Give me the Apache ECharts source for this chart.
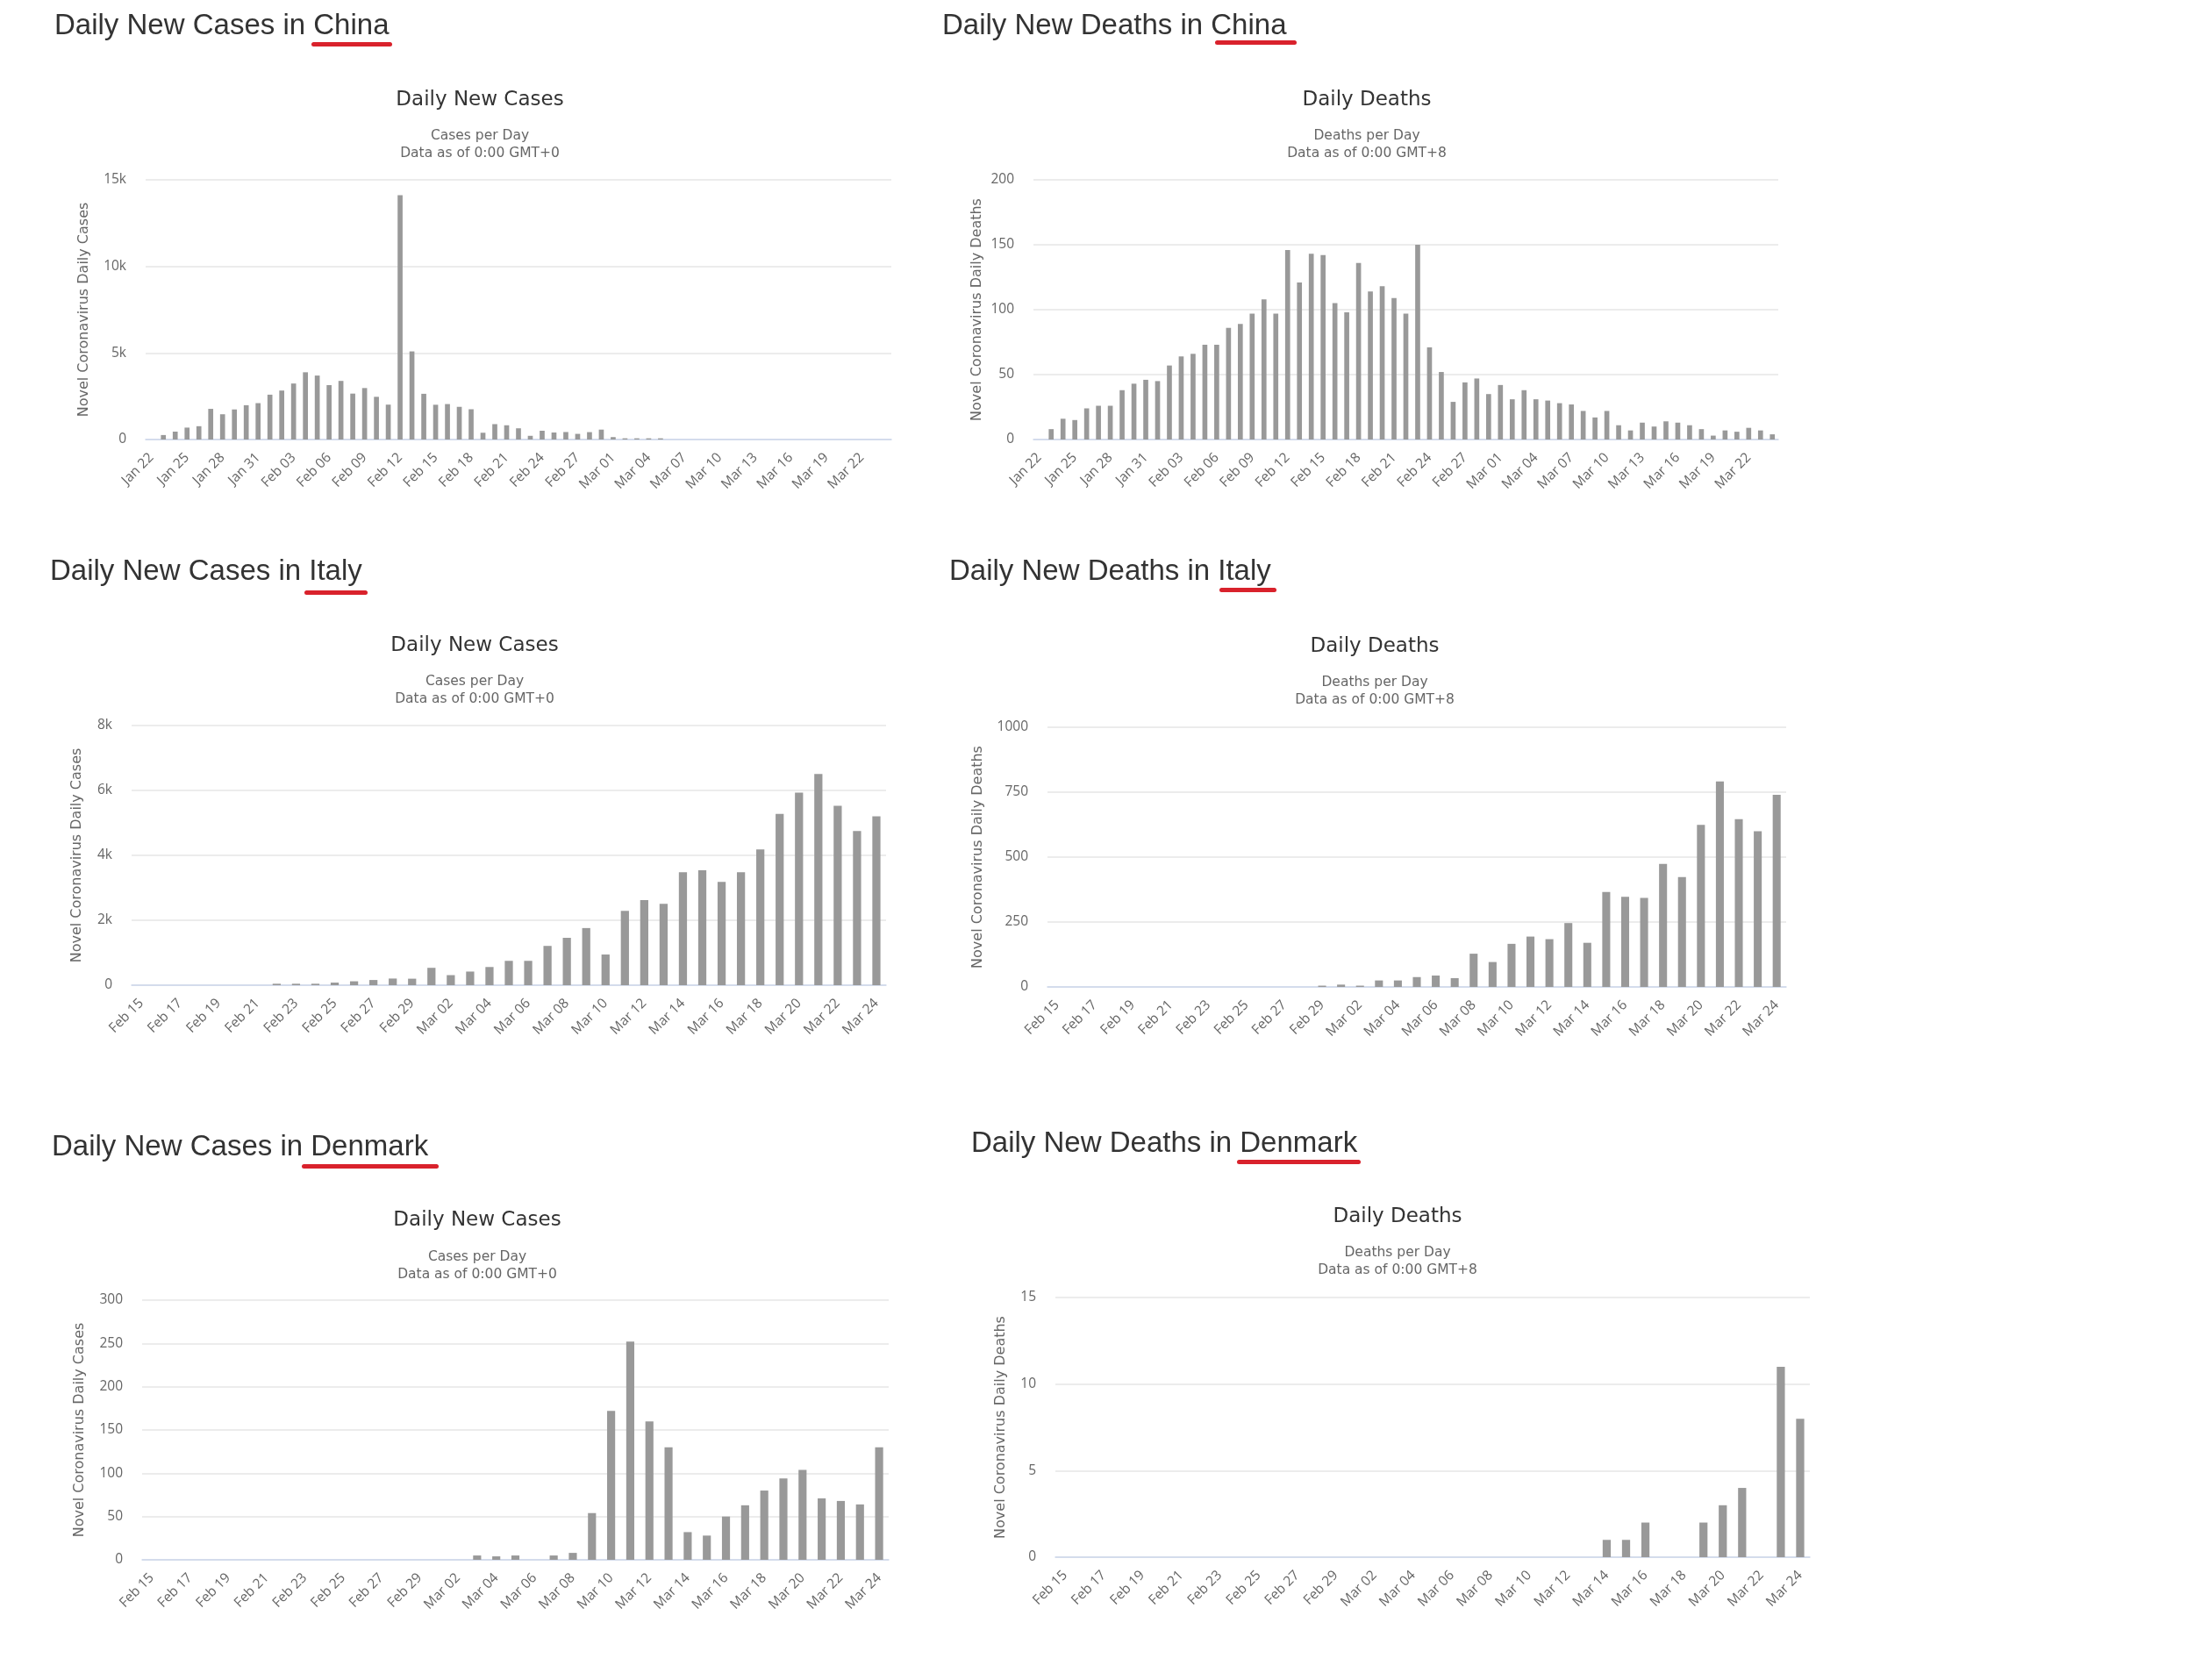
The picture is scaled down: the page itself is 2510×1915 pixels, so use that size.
<!DOCTYPE html>
<html>
<head>
<meta charset="utf-8">
<title>Daily New Cases and Deaths</title>
<script src="https://cdn.jsdelivr.net/npm/echarts@6.0.0/dist/echarts.min.js"></script>
<style>
html, body { margin: 0; padding: 0; background: #fff; }
#main { width: 2510px; height: 1915px; }
</style>
</head>
<body>
<div id="main"></div>
<script>
// categories
var chinaDays = ['Jan 22','Jan 23','Jan 24','Jan 25','Jan 26','Jan 27','Jan 28','Jan 29','Jan 30','Jan 31',
    'Feb 01','Feb 02','Feb 03','Feb 04','Feb 05','Feb 06','Feb 07','Feb 08','Feb 09','Feb 10',
    'Feb 11','Feb 12','Feb 13','Feb 14','Feb 15','Feb 16','Feb 17','Feb 18','Feb 19','Feb 20',
    'Feb 21','Feb 22','Feb 23','Feb 24','Feb 25','Feb 26','Feb 27','Feb 28','Feb 29',
    'Mar 01','Mar 02','Mar 03','Mar 04','Mar 05','Mar 06','Mar 07','Mar 08','Mar 09','Mar 10',
    'Mar 11','Mar 12','Mar 13','Mar 14','Mar 15','Mar 16','Mar 17','Mar 18','Mar 19','Mar 20',
    'Mar 21','Mar 22','Mar 23','Mar 24'];
var europeDays = ['Feb 15','Feb 16','Feb 17','Feb 18','Feb 19','Feb 20','Feb 21','Feb 22','Feb 23','Feb 24',
    'Feb 25','Feb 26','Feb 27','Feb 28','Feb 29',
    'Mar 01','Mar 02','Mar 03','Mar 04','Mar 05','Mar 06','Mar 07','Mar 08','Mar 09','Mar 10',
    'Mar 11','Mar 12','Mar 13','Mar 14','Mar 15','Mar 16','Mar 17','Mar 18','Mar 19','Mar 20',
    'Mar 21','Mar 22','Mar 23','Mar 24'];

// series values
var chinaCases = [0, 259, 457, 688, 769, 1771, 1459, 1737, 1982, 2102,
    2590, 2829, 3235, 3884, 3694, 3143, 3385, 2652, 2973, 2467,
    2015, 14108, 5090, 2641, 2008, 2048, 1888, 1749, 391, 889,
    823, 648, 214, 508, 406, 433, 327, 427, 573,
    140, 70, 70, 70, 70, 0, 0, 0, 0, 0,
    0, 0, 0, 0, 0, 0, 0, 0, 0, 0,
    0, 0, 0, 0];
var chinaDeaths = [0, 8, 16, 15, 24, 26, 26, 38, 43, 46,
    45, 57, 64, 66, 73, 73, 86, 89, 97, 108,
    97, 146, 121, 143, 142, 105, 98, 136, 114, 118,
    109, 97, 150, 71, 52, 29, 44, 47, 35,
    42, 31, 38, 31, 30, 28, 27, 22, 17, 22,
    11, 7, 13, 10, 14, 13, 11, 8, 3, 7,
    6, 9, 7, 4];
var italyCases = [0, 0, 0, 0, 0, 0, 0, 45, 45, 45,
    80, 120, 160, 205, 200,
    535, 310, 420, 560, 750, 750, 1210, 1460, 1760, 945,
    2290, 2620, 2510, 3480, 3540, 3180, 3480, 4180, 5280, 5930,
    6510, 5530, 4750, 5200];
var italyDeaths = [0, 0, 0, 0, 0, 0, 0, 0, 0, 0,
    0, 0, 0, 0, 5,
    9, 5, 25, 25, 38, 44, 34, 128, 96, 166,
    194, 184, 246, 170, 366, 347, 343, 474, 423, 624,
    791, 646, 600, 740];
var denmarkCases = [0, 0, 0, 0, 0, 0, 0, 0, 0, 0,
    0, 0, 0, 0, 0,
    0, 0, 5, 4, 5, 0, 5, 8, 54, 172,
    252, 160, 130, 32, 28, 50, 63, 80, 94, 104,
    71, 68, 64, 130];
var denmarkDeaths = [0, 0, 0, 0, 0, 0, 0, 0, 0, 0,
    0, 0, 0, 0, 0,
    0, 0, 0, 0, 0, 0, 0, 0, 0, 0,
    0, 0, 0, 1, 1, 2, 0, 0, 2, 3,
    4, 0, 11, 8];

// y axis tick labels
var chinaCasesTicks = [0, 5000, 10000, 15000];
var chinaDeathsTicks = [0, 50, 100, 150, 200];
var italyCasesTicks = [0, 2000, 4000, 6000, 8000];
var italyDeathsTicks = [0, 250, 500, 750, 1000];
var denmarkCasesTicks = [0, 50, 100, 150, 200, 250, 300];
var denmarkDeathsTicks = [0, 5, 10, 15];

var casesSub = 'Cases per Day\nData as of 0:00 GMT+0';
var deathsSub = 'Deaths per Day\nData as of 0:00 GMT+8';

// one entry per panel: texts, data and where it sits on the page
var panels = [
    { heading: 'Daily New Cases in China', hx: 62, hy: 30, ul: [355, 48, 92],
      title: 'Daily New Cases', sub: casesSub, tx: 547, ty: 114, gap: 18.5,
      yName: 'Novel Coronavirus Daily Cases', nameOff: 71, kLabels: true,
      days: chinaDays, values: chinaCases, ticks: chinaCasesTicks, every: 2,
      grid: [166, 205, 850] },
    { heading: 'Daily New Deaths in China', hx: 1074, hy: 30, ul: [1385, 46, 93],
      title: 'Daily Deaths', sub: deathsSub, tx: 1558, ty: 114, gap: 18.5,
      yName: 'Novel Coronavirus Daily Deaths', nameOff: 65, kLabels: false,
      days: chinaDays, values: chinaDeaths, ticks: chinaDeathsTicks, every: 2,
      grid: [1178, 205, 849] },
    { heading: 'Daily New Cases in Italy', hx: 57, hy: 651.5, ul: [347, 673, 72],
      title: 'Daily New Cases', sub: casesSub, tx: 541, ty: 736, gap: 19,
      yName: 'Novel Coronavirus Daily Cases', nameOff: 63, kLabels: true,
      days: europeDays, values: italyCases, ticks: italyCasesTicks, every: 1,
      grid: [150, 827, 860] },
    { heading: 'Daily New Deaths in Italy', hx: 1082, hy: 652, ul: [1390, 670, 65],
      title: 'Daily Deaths', sub: deathsSub, tx: 1567, ty: 737.5, gap: 18.5,
      yName: 'Novel Coronavirus Daily Deaths', nameOff: 80, kLabels: false,
      days: europeDays, values: italyDeaths, ticks: italyDeathsTicks, every: 1,
      grid: [1194, 829, 842] },
    { heading: 'Daily New Cases in Denmark', hx: 59, hy: 1308, ul: [344, 1327, 156],
      title: 'Daily New Cases', sub: casesSub, tx: 544, ty: 1391, gap: 19.5,
      yName: 'Novel Coronavirus Daily Cases', nameOff: 72, kLabels: false,
      days: europeDays, values: denmarkCases, ticks: denmarkCasesTicks, every: 1,
      grid: [162, 1482, 851] },
    { heading: 'Daily New Deaths in Denmark', hx: 1107, hy: 1304, ul: [1410, 1322, 141],
      title: 'Daily Deaths', sub: deathsSub, tx: 1593, ty: 1387.5, gap: 18.5,
      yName: 'Novel Coronavirus Daily Deaths', nameOff: 63, kLabels: false,
      days: europeDays, values: denmarkDeaths, ticks: denmarkDeathsTicks, every: 1,
      grid: [1203, 1479, 860] }
];

var plotHeight = 296;

function kFormat(v) {
    return v >= 1000 ? (v / 1000) + 'k' : String(v);
}
function plainFormat(v) {
    return String(v);
}

var option = {
    backgroundColor: '#fff',
    animation: false,
    title: [],
    grid: [],
    xAxis: [],
    yAxis: [],
    series: [],
    graphic: []
};

panels.forEach(function (p, i) {
    // big heading above each chart
    option.title.push({
        text: p.heading,
        left: p.hx,
        top: p.hy - 20,
        padding: 0,
        textAlign: 'left',
        textStyle: {
            fontFamily: 'Liberation Sans, Arial, sans-serif',
            fontSize: 33,
            fontWeight: 'normal',
            color: '#333',
            lineHeight: 40
        }
    });
    // red underline under the country name
    option.graphic.push({
        type: 'rect',
        left: p.ul[0],
        top: p.ul[1],
        shape: { width: p.ul[2], height: 5, r: 2.5 },
        style: { fill: '#d9222c' },
        silent: true
    });
    // chart title + subtitle
    option.title.push({
        text: p.title,
        subtext: p.sub,
        left: p.tx,
        top: p.ty - 12,
        padding: 0,
        itemGap: p.gap,
        textAlign: 'center',
        textStyle: {
            fontFamily: 'DejaVu Sans',
            fontSize: 23,
            fontWeight: 'normal',
            color: '#333',
            lineHeight: 24
        },
        subtextStyle: {
            fontFamily: 'DejaVu Sans',
            fontSize: 15.5,
            color: '#666',
            lineHeight: 20
        }
    });

    option.grid.push({
        left: p.grid[0],
        top: p.grid[1],
        width: p.grid[2],
        height: plotHeight,
        containLabel: false
    });

    option.xAxis.push({
        type: 'category',
        gridIndex: i,
        data: p.days,
        boundaryGap: true,
        axisLine: { lineStyle: { color: '#ccd6eb', width: 1.5 } },
        axisTick: { show: false },
        splitLine: { show: false },
        axisLabel: {
            interval: p.every,
            rotate: 45,
            margin: 18,
            fontFamily: 'Open Sans',
            fontSize: 15.5,
            color: '#666'
        }
    });

    var t = p.ticks;
    option.yAxis.push({
        type: 'value',
        gridIndex: i,
        min: t[0],
        max: t[t.length - 1],
        interval: t[1] - t[0],
        name: p.yName,
        nameLocation: 'middle',
        nameGap: p.nameOff - 9,
        nameTextStyle: {
            fontFamily: 'DejaVu Sans',
            fontSize: 16,
            color: '#666'
        },
        axisLine: { show: false },
        axisTick: { show: false },
        splitLine: { lineStyle: { color: '#e6e6e6', width: 1.5 } },
        axisLabel: {
            margin: 22,
            fontFamily: 'Open Sans',
            fontSize: 15.5,
            color: '#666',
            formatter: p.kLabels ? kFormat : plainFormat
        }
    });

    option.series.push({
        name: p.title,
        type: 'bar',
        xAxisIndex: i,
        yAxisIndex: i,
        data: p.values,
        barWidth: '42%',
        itemStyle: { color: '#999999' }
    });
});

var myChart = echarts.init(document.getElementById('main'));
myChart.setOption(option, true);
</script>
</body>
</html>
